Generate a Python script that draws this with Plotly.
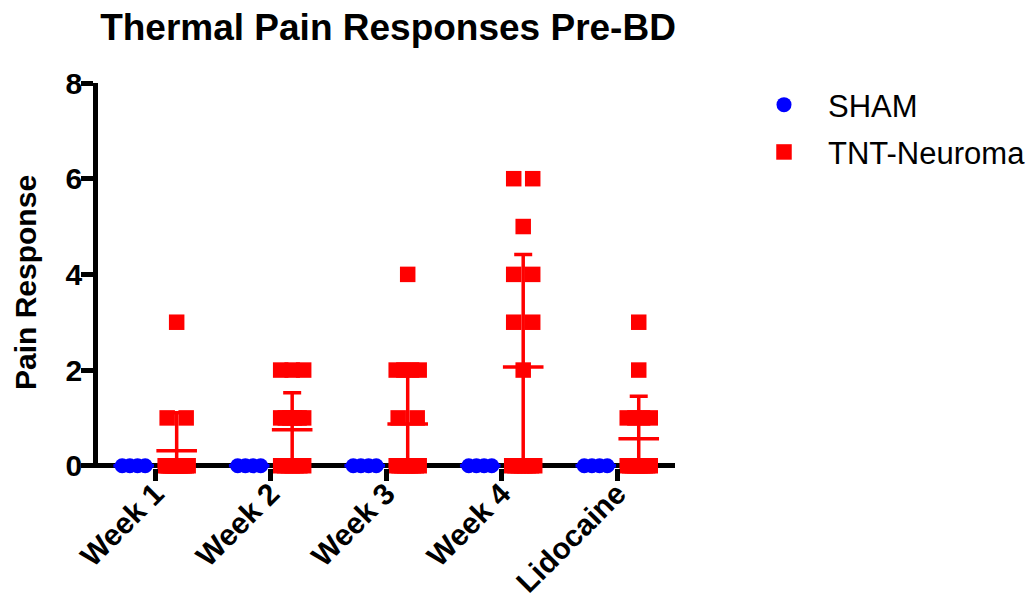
import numpy as np
import plotly.graph_objects as go

# ---- data -------------------------------------------------------------
categories = ["Week 1", "Week 2", "Week 3", "Week 4", "Lidocaine"]

sham_week1 = [0, 0, 0, 0]
sham_week2 = [0, 0, 0, 0]
sham_week3 = [0, 0, 0, 0]
sham_week4 = [0, 0, 0, 0]
sham_lido = [0, 0, 0, 0]

tnt_week1 = [3, 1, 1, 0, 0, 0, 0, 0, 0, 0, 0, 0, 0, 0, 0, 0]
tnt_week2 = [2, 2, 2, 1, 1, 1, 1, 1, 1, 0, 0, 0, 0, 0, 0, 0]
tnt_week3 = [4, 2, 2, 2, 2, 1, 1, 0, 0, 0, 0, 0, 0, 0, 0, 0]
tnt_week4 = [6, 6, 5, 4, 4, 3, 3, 2, 0, 0, 0, 0, 0, 0, 0, 0]
tnt_lido = [3, 2, 1, 1, 1, 1, 0, 0, 0, 0, 0, 0, 0, 0, 0, 0]

y_ticks = [0, 2, 4, 6, 8]

sham = [sham_week1, sham_week2, sham_week3, sham_week4, sham_lido]
tnt = [tnt_week1, tnt_week2, tnt_week3, tnt_week4, tnt_lido]

# ---- layout geometry ---------------------------------------------------
W, H = 1034, 599
M_L, M_R, M_T, M_B = 98, 359, 83, 131
X_RANGE = [-0.495, 4.5]
Y_RANGE = [-0.047, 8]
PLOT_W = W - M_L - M_R
PLOT_H = H - M_T - M_B
PX_PER_X = PLOT_W / (X_RANGE[1] - X_RANGE[0])
GROUP_SHIFT = 0.186  # column offset of each group from its category tick

FONT = "Arial, Liberation Sans, sans-serif"
BLUE = "#0000FF"
RED = "#FF0000"


def scatter_offsets(values):
    """Spread identical values sideways (in pixels) like a dot plot."""
    values = np.asarray(values, dtype=float)
    offs = np.zeros(len(values))
    for v in np.unique(values):
        idx = np.where(values == v)[0]
        k = len(idx)
        if k == 2:
            offs[idx] = [-9.5, 9.5]
        elif k > 2:
            offs[idx] = np.linspace(-11.5, 11.5, k)
    return offs / PX_PER_X


def group_points(groups, shift):
    xs, ys = [], []
    for i, vals in enumerate(groups):
        xs.extend(i + shift + scatter_offsets(vals))
        ys.extend(vals)
    return xs, ys


fig = go.Figure()

# mean line with SD whiskers (whisker clipped at zero), under the points
for groups, shift, color in [(sham, -GROUP_SHIFT, BLUE), (tnt, GROUP_SHIFT, RED)]:
    means = np.array([np.mean(g) for g in groups])
    sds = np.array([np.std(g, ddof=1) for g in groups])
    fig.add_trace(go.Scatter(
        x=[i + shift for i in range(len(groups))], y=means,
        mode="markers", showlegend=False, hoverinfo="skip",
        marker=dict(symbol="line-ew", size=29,
                    line=dict(width=3.5, color=color)),
        error_y=dict(type="data", symmetric=False, array=sds,
                     arrayminus=np.minimum(sds, means),
                     width=9, thickness=3.5, color=color),
        cliponaxis=False,
    ))

# individual responses
for name, groups, shift, color, symbol, size in [
    ("SHAM", sham, -GROUP_SHIFT, BLUE, "circle", 15),
    ("TNT-Neuroma", tnt, GROUP_SHIFT, RED, "square", 15.5),
]:
    xs, ys = group_points(groups, shift)
    fig.add_trace(go.Scatter(
        x=xs, y=ys, mode="markers", name=name, legendgroup=name,
        marker=dict(symbol=symbol, size=size, color=color, line=dict(width=0)),
        cliponaxis=False,
    ))

fig.update_layout(
    width=W, height=H,
    margin=dict(l=M_L, r=M_R, t=M_T, b=M_B, autoexpand=False),
    paper_bgcolor="white", plot_bgcolor="white",
    font=dict(family=FONT, color="black"),
    title=dict(
        text="<b>Thermal Pain Responses Pre-BD</b>",
        font=dict(size=37, family=FONT, color="black"),
        x=388 / W, xanchor="center",
        y=1 - 27 / H, yanchor="middle",
    ),
    showlegend=True,
    legend=dict(
        x=(740 - M_L) / PLOT_W, xanchor="left",
        y=1 + (M_T - 78) / PLOT_H, yanchor="top",
        font=dict(size=31, family=FONT, color="black"),
        bgcolor="rgba(0,0,0,0)", itemsizing="trace",
        itemwidth=78, traceorder="grouped", tracegroupgap=4,
    ),
    xaxis=dict(
        range=X_RANGE, showgrid=False, zeroline=False, showline=False,
        tickmode="array", tickvals=list(range(len(categories))),
        ticktext=[f"<b>{c}</b>" for c in categories],
        ticks="outside", ticklen=12, tickwidth=4.5, tickcolor="black",
        tickangle=-45, ticklabelstandoff=-17,
        tickfont=dict(size=30, family=FONT, color="black"),
    ),
    yaxis=dict(
        range=Y_RANGE, showgrid=False,
        zeroline=True, zerolinewidth=4.5, zerolinecolor="black",
        showline=True, linewidth=4.5, linecolor="black",
        tickmode="array", tickvals=y_ticks,
        ticktext=[f"<b>{t}</b>" for t in y_ticks],
        ticks="outside", ticklen=12, tickwidth=4.5, tickcolor="black",
        ticklabelstandoff=-7,
        tickfont=dict(size=30, family=FONT, color="black"),
    ),
    annotations=[dict(
        text="<b>Pain Response</b>", textangle=-90,
        xref="paper", yref="paper",
        x=(25 - M_L) / PLOT_W, y=(H - M_B - 283) / PLOT_H,
        xanchor="center", yanchor="middle", showarrow=False,
        font=dict(size=30, family=FONT, color="black"),
    )],
)

fig.write_html("out.html")
